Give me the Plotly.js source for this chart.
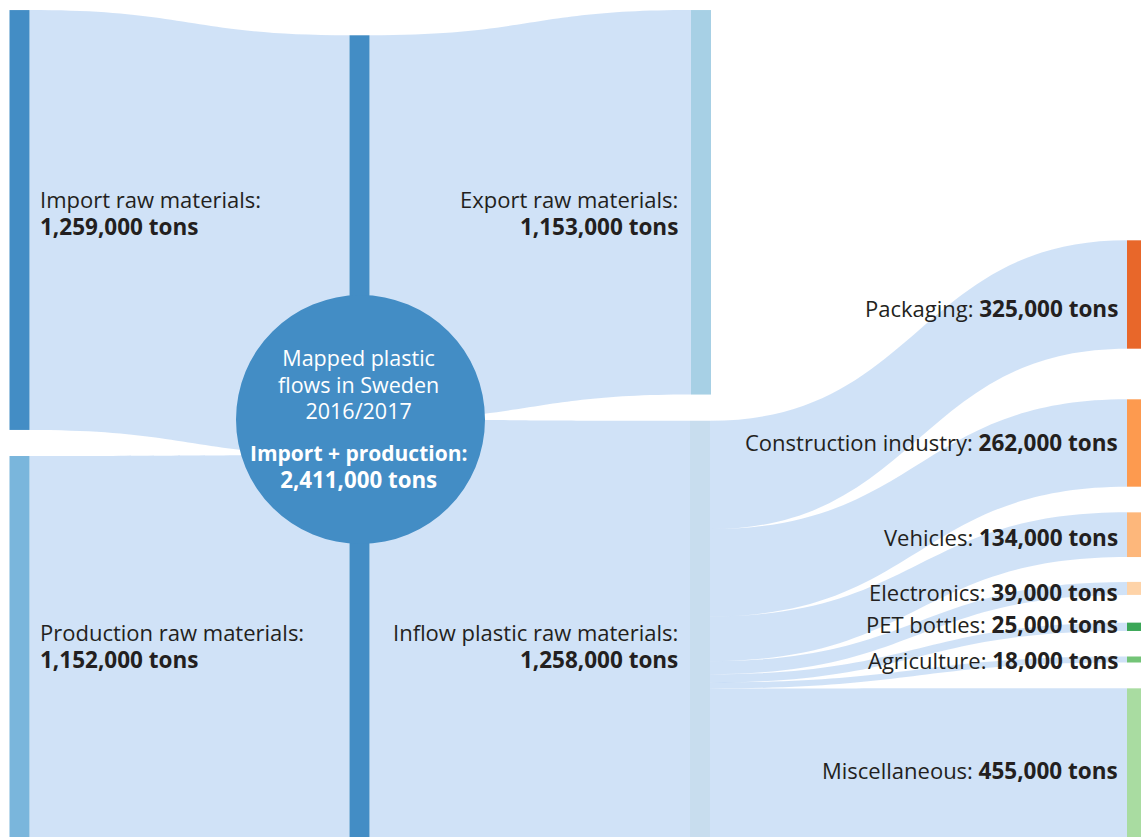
<!DOCTYPE html>
<html><head><meta charset="utf-8">
<script src="https://cdn.plot.ly/plotly-3.0.1.min.js"></script>
<style>html,body{margin:0;padding:0;overflow:hidden;background:#fff}#chart{width:1141px;height:837px}</style>
</head><body><div id="chart"></div>
<script>
// ---------------- data ----------------
const nodeNames = [
  'Import raw materials', 'Production raw materials', 'Mapped plastic flows in Sweden 2016/2017',
  'Export raw materials', 'Inflow plastic raw materials',
  'Packaging', 'Construction industry', 'Vehicles', 'Electronics', 'PET bottles', 'Agriculture', 'Miscellaneous'
];
const linkSource = [0, 1, 2, 2, 4, 4, 4, 4, 4, 4, 4];
const linkTarget = [2, 2, 3, 4, 5, 6, 7, 8, 9, 10, 11];
const linkValue  = [1259000, 1152000, 1153000, 1258000, 325000, 262000, 134000, 39000, 25000, 18000, 455000];
const centerTitleLines = ['Mapped plastic', 'flows in Sweden', '2016/2017'];
const centerTotalName = 'Import + production';
const unit = 'tons';

// ---------------- style / layout ----------------
const W = 1141, H = 837;
const nodeColors = ['#438DC5', '#7AB6DC', '#438DC5', '#A7D0E5', '#C8DDEE',
  '#E8672A', '#FD9A4F', '#FDB77B', '#FED3A8', '#3BA757', '#73C477', '#A9DCA1'];
const nodeXpx = [19.5, 19.5, 359.5, 701, 700, 1137, 1137, 1137, 1137, 1137, 1137, 1137];
const nodeYpx = [220, 648.1, 437.3, 202.3, 630.5, 294.5, 443, 534.7, 588.4, 626.8, 659.5, 764.2];
const linkColor = 'rgba(110,165,230,0.32)';
const fontFam = '"Open Sans", sans-serif';
const textColor = '#231F20';
const nameSize = 22, valueSize = 22.5;

// node values derived from the links
const nodeValue = nodeNames.map((_, i) => {
  let inS = 0, outS = 0;
  linkValue.forEach((v, k) => { if (linkTarget[k] === i) inS += v; if (linkSource[k] === i) outS += v; });
  return Math.max(inS, outS);
});
const fmt = v => v.toLocaleString('en-US') + ' ' + unit;
const sz = (t, s) => '<span style="font-size:' + s + 'px">' + t + '</span>';

const trace = {
  type: 'sankey',
  arrangement: 'fixed',
  domain: {x: [0, 1], y: [0, 1]},
  node: {
    label: nodeNames.map(() => ''),
    customdata: nodeNames,
    hovertemplate: '%{customdata}: %{value:,} tons<extra></extra>',
    color: nodeColors,
    thickness: 20,
    pad: 4.71,
    line: {width: 0},
    x: nodeXpx.map(v => v / W),
    y: nodeYpx.map(v => v / H)
  },
  link: {
    source: linkSource,
    target: linkTarget,
    value: linkValue,
    color: linkSource.map(() => linkColor),
    hovertemplate: '%{value:,} tons<extra></extra>'
  }
};

const px = v => v / W, py = v => 1 - v / H;
const annotations = [];
function ann(text, x, y, xanchor, color, size) {
  annotations.push({text: text, x: px(x), y: py(y), xref: 'paper', yref: 'paper',
    xanchor: xanchor, yanchor: 'middle', showarrow: false, align: xanchor === 'center' ? 'center' : xanchor,
    borderpad: 0,
    font: {family: fontFam, size: size, color: color || textColor}});
}
// two-line labels: [node, x, yMiddle, anchor]  (base size sets the line step)
const twoLine = [[0, 39, 212.5, 'left'], [1, 39, 645.5, 'left'],
                 [3, 679, 212.5, 'right'], [4, 679, 645.5, 'right']];
twoLine.forEach(([n, x, y, a]) => {
  ann(sz(nodeNames[n] + ':', nameSize) + '<br>' + sz('<b>' + fmt(nodeValue[n]) + '</b>', valueSize),
      x, y, a, textColor, 21);
});
// one-line labels on the right: [node, y]
const oneLine = [[5, 308], [6, 443], [7, 537], [8, 592], [9, 624], [10, 660], [11, 770]];
oneLine.forEach(([n, y]) => ann(nodeNames[n] + ': ' + sz('<b>' + fmt(nodeValue[n]) + '</b>', valueSize),
  1119, y, 'right', textColor, nameSize));
// circle text
const cx = 358.5;
ann(centerTitleLines.map(t => sz(t, 21.5)).join('<br>'), cx, 384, 'center', '#FFFFFF', 20.4);
ann(sz('<b>' + centerTotalName + ':</b>', 21) + '<br>' + sz('<b>' + fmt(nodeValue[2]) + '</b>', 22.3),
    cx, 466.5, 'center', '#FFFFFF', 20.8);

const circ = {cx: 360.5, cy: 419.5, r: 124.5};
const layout = {
  width: W, height: H,
  margin: {l: 0, r: 0, t: 0, b: 0},
  paper_bgcolor: '#FFFFFF',
  font: {family: fontFam},
  shapes: [{type: 'circle', xref: 'paper', yref: 'paper', layer: 'above',
    x0: px(circ.cx - circ.r), x1: px(circ.cx + circ.r),
    y0: py(circ.cy + circ.r), y1: py(circ.cy - circ.r),
    fillcolor: '#438DC5', line: {width: 0}}],
  annotations: annotations
};
Plotly.newPlot('chart', [trace], layout, {displayModeBar: false, staticPlot: false});
</script>
</body></html>
